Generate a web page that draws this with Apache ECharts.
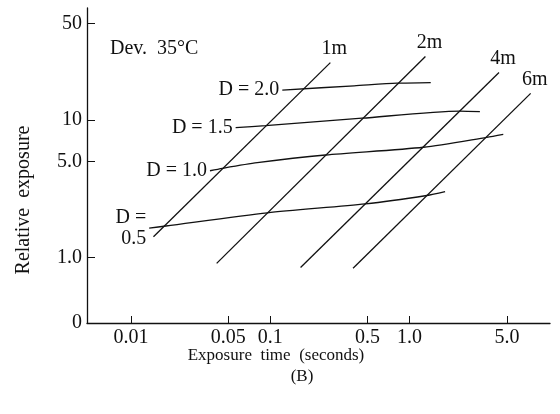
<!DOCTYPE html>
<html>
<head>
<meta charset="utf-8">
<script src="https://cdn.jsdelivr.net/npm/echarts@6/dist/echarts.min.js"></script>
<style>
  html, body { margin: 0; padding: 0; background: #fff; }
  #chart { width: 560px; height: 414px; }
</style>
</head>
<body>
<div id="chart"></div>
<script>
// exposure time (s) and relative exposure
var xTickValues = [0.01, 0.05, 0.1, 0.5, 1, 5];
var xTickLabels = ['0.01', '0.05', '0.1', '0.5', '1.0', '5.0'];
var yTickValues = [0.336, 1, 5, 10, 50];
var yTickLabels = ['0', '1.0', '5.0', '10', '50'];

// development time lines (straight in log-log)
var devNames = ['1m', '2m', '4m', '6m'];
var devTimes = [[0.0145, 0.270], [0.0412, 1.30], [0.165, 4.39], [0.393, 7.41]];
var devExposure = [[1.42, 26.1], [0.91, 28.9], [0.85, 22.1], [0.84, 15.6]];

// density curves
var densNames = ['D = 2.0', 'D = 1.5', 'D = 1.0', 'D =\n0.5'];
var densTimes = [
  [0.122, 0.40, 0.812, 1.42],
  [0.0564, 0.0925, 0.456, 2.30, 3.20],
  [0.0369, 0.0453, 0.0807, 0.249, 1.26, 3.58, 4.71],
  [0.0135, 0.0178, 0.0952, 0.482, 1.33, 1.80]
];
var densExposure = [
  [16.5, 17.7, 18.5, 18.7],
  [8.79, 9.09, 10.3, 11.6, 11.5],
  [4.28, 4.46, 4.90, 5.57, 6.34, 7.49, 7.87],
  [1.64, 1.70, 2.12, 2.46, 2.83, 3.02]
];

var lg = Math.log10;
var serif = 'Liberation Serif';
var ink = '#111';

function tickName(values, labels, v) {
  var best = 0;
  for (var i = 1; i < values.length; i++) {
    if (Math.abs(lg(values[i]) - v) < Math.abs(lg(values[best]) - v)) best = i;
  }
  return labels[best];
}

var series = [];
devNames.forEach(function (name, k) {
  var pts = devTimes[k].map(function (t, i) {
    var item = { value: [lg(t), lg(devExposure[k][i])] };
    if (i === devTimes[k].length - 1) {
      item.label = { show: true, position: 'top', distance: 4, offset: [4, 0], formatter: name };
    }
    return item;
  });
  series.push({
    name: name, type: 'line', data: pts,
    symbol: 'circle', symbolSize: 0,
    lineStyle: { color: ink, width: 1.3 },
    itemStyle: { color: ink },
    label: { color: ink, fontFamily: serif, fontSize: 20 },
    silent: true, animation: false
  });
});
densNames.forEach(function (name, k) {
  var pts = densTimes[k].map(function (t, i) {
    var item = { value: [lg(t), lg(densExposure[k][i])] };
    if (i === 0) {
      item.label = { show: true, position: 'left', distance: 3, formatter: name, lineHeight: 21 };
    }
    return item;
  });
  series.push({
    name: name, type: 'line', data: pts, smooth: 0.25,
    symbol: 'circle', symbolSize: 0,
    lineStyle: { color: ink, width: 1.3 },
    itemStyle: { color: ink },
    label: { color: ink, fontFamily: serif, fontSize: 20 },
    silent: true, animation: false
  });
});

var chart = echarts.init(document.getElementById('chart'));
chart.setOption({
  backgroundColor: '#fff',
  animation: false,
  grid: { left: 87, right: 10, top: 8, bottom: 91, outerBoundsMode: 'none' },
  xAxis: {
    type: 'value',
    min: lg(0.00483), max: lg(10.2),
    axisLine: { onZero: false, lineStyle: { color: ink, width: 1.3 } },
    axisTick: { inside: true, length: 7, lineStyle: { color: ink }, customValues: xTickValues.map(lg) },
    axisLabel: {
      customValues: xTickValues.map(lg), margin: 5,
      color: ink, fontFamily: serif, fontSize: 20,
      formatter: function (v) { return tickName(xTickValues, xTickLabels, v); }
    },
    splitLine: { show: false }
  },
  yAxis: {
    type: 'value',
    min: lg(0.336), max: lg(65),
    axisLine: { show: true, onZero: false, lineStyle: { color: ink, width: 1.3 } },
    axisTick: { show: true, inside: true, length: 8, lineStyle: { color: ink }, customValues: yTickValues.slice(1).map(lg) },
    axisLabel: {
      customValues: yTickValues.map(lg), margin: 5,
      color: ink, fontFamily: serif, fontSize: 20,
      formatter: function (v) { return tickName(yTickValues, yTickLabels, v); }
    },
    splitLine: { show: false }
  },
  graphic: [
    { type: 'text', left: 110, top: 39, style: { text: 'Dev.  35°C', font: '20px "Liberation Serif"', fill: ink } },
    { type: 'text', x: 24, y: 200, rotation: Math.PI / 2, style: { text: 'Relative  exposure', font: '20px "Liberation Serif"', fill: ink, align: 'center', verticalAlign: 'middle' } },
    { type: 'text', x: 276, y: 356, style: { text: 'Exposure  time  (seconds)', font: '17px "Liberation Serif"', fill: ink, align: 'center', verticalAlign: 'middle' } },
    { type: 'text', x: 302, y: 377, style: { text: '(B)', font: '17px "Liberation Serif"', fill: ink, align: 'center', verticalAlign: 'middle' } }
  ],
  series: series
});
</script>
</body>
</html>
